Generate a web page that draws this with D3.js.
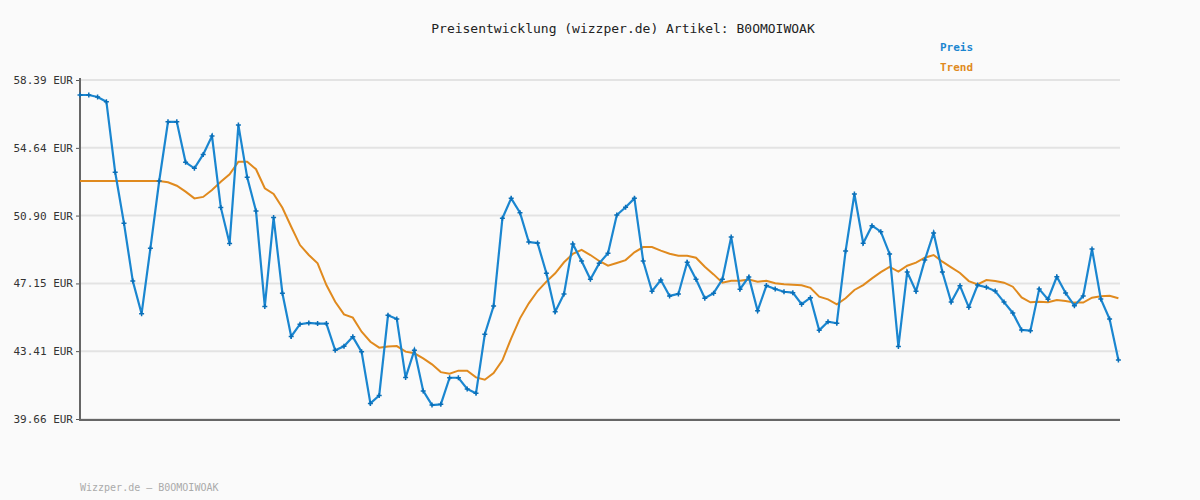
<!DOCTYPE html>
<html><head><meta charset="utf-8">
<script src="https://cdn.jsdelivr.net/npm/d3@7"></script>
<style>body{margin:0;background:#fafafa}svg{display:block}text{font-family:"DejaVu Sans Mono",monospace}</style>
</head><body><svg id="c" width="1200" height="500"></svg>
<script>
const title = "Preisentwicklung (wizzper.de) Artikel: B0OMOIWOAK";
const yTicks = [39.66, 43.41, 47.15, 50.90, 54.64, 58.39];
const preis = [57.56,57.56,57.45,57.19,53.29,50.47,47.28,45.48,49.09,52.81,56.08,56.08,53.84,53.51,54.28,55.29,51.35,49.36,55.90,53.01,51.15,45.88,50.79,46.61,44.22,44.90,44.97,44.93,44.93,43.46,43.68,44.20,43.37,40.52,40.96,45.39,45.19,41.95,43.46,41.21,40.43,
40.47,41.94,41.94,41.32,41.08,44.34,45.90,50.75,51.85,51.06,49.44,49.38,47.71,45.59,46.57,49.33,48.39,47.38,48.26,48.82,50.93,51.36,51.85,48.39,46.72,47.34,46.46,46.57,48.32,47.38,46.33,46.61,47.38,49.72,46.83,47.51,45.64,47.03,46.84,
46.69,46.64,46.00,46.36,44.56,45.04,44.95,48.94,52.09,49.37,50.34,50.01,48.78,43.66,47.78,46.72,48.44,49.94,47.78,46.12,47.02,45.83,47.06,46.94,46.73,46.12,45.52,44.58,44.54,46.84,46.27,47.52,46.62,45.92,46.46,49.05,46.29,45.18,42.92];
const trend = [52.81,52.81,52.81,52.81,52.81,52.81,52.81,52.81,52.81,52.81,52.74,52.55,52.22,51.85,51.93,52.31,52.77,53.18,53.88,53.88,53.46,52.41,52.09,51.33,50.28,49.27,48.72,48.26,47.06,46.14,45.44,45.26,44.48,43.93,43.60,43.66,43.69,43.38,43.29,43.01,42.68,
42.25,42.16,42.33,42.33,41.96,41.83,42.20,42.90,44.12,45.22,46.05,46.73,47.25,47.71,48.32,48.78,49.01,48.72,48.39,48.13,48.28,48.44,48.87,49.16,49.16,48.96,48.79,48.68,48.68,48.57,48.07,47.65,47.19,47.30,47.30,47.36,47.25,47.30,47.16,
47.10,47.08,47.05,46.91,46.42,46.27,46.00,46.33,46.79,47.06,47.43,47.77,48.06,47.80,48.13,48.30,48.57,48.72,48.35,48.04,47.73,47.28,47.10,47.34,47.28,47.19,46.97,46.38,46.11,46.14,46.11,46.23,46.18,46.09,46.09,46.36,46.44,46.47,46.33];
const idx = d3.range(preis.length);
const svg = d3.select("#c");
const x = d3.scaleLinear().domain([0, preis.length-1]).range([80, 1118.4]);
const y = d3.scaleLinear().domain([39.66, 58.39]).range([419, 80]);
svg.append("g").selectAll("line").data(yTicks).join("line")
  .attr("x1",80).attr("x2",1120).attr("y1",d=>y(d)).attr("y2",d=>y(d))
  .attr("stroke","#e3e3e3").attr("stroke-width",2);
const ax = svg.append("g").attr("transform","translate(80,0)")
  .call(d3.axisLeft(y).tickValues(yTicks).tickFormat(d=>d.toFixed(2)+" EUR").tickSize(4));
ax.select(".domain").remove();
ax.selectAll("line").attr("stroke","#555");
ax.selectAll("text").attr("font-size",11).attr("fill","#333").attr("font-family","DejaVu Sans Mono");
svg.append("line").attr("x1",80).attr("x2",80).attr("y1",78).attr("y2",420).attr("stroke","#666").attr("stroke-width",2);
svg.append("line").attr("x1",79).attr("x2",1120).attr("y1",420).attr("y2",420).attr("stroke","#666").attr("stroke-width",2);
const line = d3.line().x((d,i)=>x(i)).y(d=>y(d));
svg.append("path").datum(trend).attr("d",line).attr("fill","none").attr("stroke","#e08a1e").attr("stroke-width",2);
svg.append("path").datum(preis).attr("d",line).attr("fill","none").attr("stroke","#1a86d0").attr("stroke-width",2.2);
svg.append("g").selectAll("path").data(preis).join("path")
  .attr("d",(d,i)=>`M${x(i)-2.5},${y(d)}h5M${x(i)},${y(d)-2.5}v5`)
  .attr("stroke","#0a6fb8").attr("stroke-width",1.5);
svg.append("text").attr("x",623).attr("y",33).attr("text-anchor","middle").attr("font-size",13).attr("fill","#222").text(title);
svg.append("text").attr("x",940).attr("y",51).attr("font-size",11).attr("font-weight","bold").attr("fill","#1a86d0").text("Preis");
svg.append("text").attr("x",940).attr("y",71).attr("font-size",11).attr("font-weight","bold").attr("fill","#e08a1e").text("Trend");
svg.append("text").attr("x",80).attr("y",491).attr("font-size",10).attr("fill","#aaa").text("Wizzper.de – B0OMOIWOAK");
</script></body></html>
